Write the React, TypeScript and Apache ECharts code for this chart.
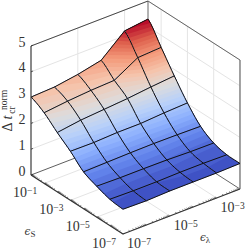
import React, { useEffect, useRef } from "react";
import * as echarts from "echarts";

// log10 of the axis values
const lambdaExp = [-7, -6, -5, -4, -3, -2];
const sExp = [0, -1, -2, -3, -4, -5, -6, -7];
const zTicks = [0, 1, 2, 3, 4, 5];
const lambdaTicks = [-7, -5, -3];
const sTicks = [-1, -3, -5, -7];
const zValues = [
  [3.02, 3.06, 3.2, 3.4, 4.19, 4.3],
  [2.74, 2.84, 2.91, 2.95, 3.48, 3.53],
  [2.3, 2.43, 2.5, 2.57, 2.67, 2.75],
  [1.9, 1.89, 1.93, 1.93, 1.99, 2.03],
  [1.43, 1.45, 1.47, 1.48, 1.47, 1.45],
  [1.2, 1.18, 1.18, 1.17, 1.14, 1.13],
  [1.02, 1.0, 1.0, 1.02, 1.02, 1.0],
  [0.96, 0.94, 0.97, 0.97, 0.97, 0.99],
];
const coolwarm = [
  [59, 76, 192], [97, 130, 234], [141, 176, 254], [184, 208, 249], [221, 220, 220],
  [245, 196, 172], [244, 154, 123], [222, 96, 77], [180, 4, 38],
];

const L_MIN = -7, L_MAX = -2, S_MIN = -7, S_MAX = 0, Z_MAX = 5;
const FONT = "Liberation Serif";
const INK = "#333333";
const Z_LO = 0.9, Z_HI = 4.3, LEVELS = 36, STEPS = 5;

// orthographic projection of the 3D box on the page plane
function project(l: number, s: number, z: number): number[] {
  const a = l - L_MIN, b = S_MAX - s;
  return [31 + 23.4 * a + 13.14 * b, 175 - 9 * a + 8.43 * b - 25.8 * z];
}

function colorAt(t: number): string {
  const p = t * (coolwarm.length - 1);
  const k = Math.min(coolwarm.length - 2, Math.floor(p));
  const f = p - k;
  const c = coolwarm[k].map((v, n) => Math.round(v + (coolwarm[k + 1][n] - v) * f));
  return `rgb(${c[0]},${c[1]},${c[2]})`;
}

// smooth drawing of a column of the mesh between its read values
function zOnColumn(i: number, j: number, v: number): number {
  const n = sExp.length - 1;
  const p0 = zValues[Math.max(0, j - 1)][i], p1 = zValues[j][i];
  const p2 = zValues[j + 1][i], p3 = zValues[Math.min(n, j + 2)][i];
  return 0.5 * (2 * p1 + (p2 - p0) * v + (2 * p0 - 5 * p1 + 4 * p2 - p3) * v * v + (3 * p1 - p0 - 3 * p2 + p3) * v * v * v);
}

// keep the part of a polygon whose height is at least zk
function clipAbove(poly: number[][], zk: number): number[][] {
  const out: number[][] = [];
  for (let n = 0; n < poly.length; n++) {
    const a = poly[n], b = poly[(n + 1) % poly.length];
    const ia = a[2] >= zk, ib = b[2] >= zk;
    if (ia) out.push(a);
    if (ia !== ib) {
      const f = (zk - a[2]) / (b[2] - a[2]);
      out.push([a[0] + (b[0] - a[0]) * f, a[1] + (b[1] - a[1]) * f, zk]);
    }
  }
  return out;
}

function App() {
  const ref = useRef<HTMLDivElement>(null);
  useEffect(() => {
    document.body.style.margin = "0";
    const chart = echarts.init(ref.current!, null, { renderer: "svg" });
    const cells: number[][] = [];
    for (let i = lambdaExp.length - 2; i >= 0; i--) {
      for (let j = 0; j < sExp.length - 1; j++) cells.push([i, j]);
    }
    const line = (api: any, a: number[], b: number[], stroke: string, lineWidth: number) => {
      const p = api.coord(project(a[0], a[1], a[2]));
      const q = api.coord(project(b[0], b[1], b[2]));
      return { type: "line", silent: true, shape: { x1: p[0], y1: p[1], x2: q[0], y2: q[1] }, style: { stroke, lineWidth } };
    };
    const GRID = "#e4e4e4";
    const renderFrameBack = (_: any, api: any) => {
      const ch: any[] = [];
      zTicks.slice(1).forEach((z) => {
        ch.push(line(api, [L_MIN, S_MAX, z], [L_MAX, S_MAX, z], GRID, 1));
        ch.push(line(api, [L_MAX, S_MAX, z], [L_MAX, S_MIN, z], GRID, 1));
      });
      lambdaTicks.forEach((l) => {
        ch.push(line(api, [l, S_MAX, 0], [l, S_MAX, Z_MAX], GRID, 1));
        ch.push(line(api, [l, S_MAX, 0], [l, S_MIN, 0], GRID, 1));
      });
      sTicks.forEach((s) => {
        ch.push(line(api, [L_MAX, s, 0], [L_MAX, s, Z_MAX], GRID, 1));
        ch.push(line(api, [L_MIN, s, 0], [L_MAX, s, 0], GRID, 1));
      });
      ch.push(line(api, [L_MIN, S_MAX, 0], [L_MAX, S_MAX, 0], "#333", 0.8));
      ch.push(line(api, [L_MAX, S_MAX, 0], [L_MAX, S_MIN, 0], "#666", 1));
      ch.push(line(api, [L_MAX, S_MAX, 0], [L_MAX, S_MAX, Z_MAX], "#666", 1));
      ch.push(line(api, [L_MIN, S_MAX, Z_MAX], [L_MAX, S_MAX, Z_MAX], "#333", 0.9));
      ch.push(line(api, [L_MAX, S_MAX, Z_MAX], [L_MAX, S_MIN, Z_MAX], "#666", 1));
      ch.push(line(api, [L_MAX, S_MIN, 0], [L_MAX, S_MIN, Z_MAX], "#777", 1.3));
      return { type: "group", children: ch };
    };
    const renderCell = (_: any, api: any) => {
      const i = api.value(0), j = api.value(1);
      // outline of the cell: down one column, back along the next
      const poly: number[][] = [];
      for (let n = 0; n <= STEPS; n++) {
        const v = n / STEPS;
        poly.push([lambdaExp[i], sExp[j] + (sExp[j + 1] - sExp[j]) * v, zOnColumn(i, j, v)]);
      }
      for (let n = STEPS; n >= 0; n--) {
        const v = n / STEPS;
        poly.push([lambdaExp[i + 1], sExp[j] + (sExp[j + 1] - sExp[j]) * v, zOnColumn(i + 1, j, v)]);
      }
      const ch: any[] = [];
      for (let k = 0; k < LEVELS; k++) {
        const zk = Z_LO + ((Z_HI - Z_LO) * k) / LEVELS;
        const part = k === 0 ? poly : clipAbove(poly, zk);
        if (part.length < 3) continue;
        const col = colorAt((k + 0.5) / LEVELS);
        ch.push({
          type: "polygon", silent: true,
          shape: { points: part.map((q) => api.coord(project(q[0], q[1], q[2]))) },
          style: { fill: col, stroke: k === 0 ? col : "none", lineWidth: 0.4 },
        });
      }
      return { type: "group", children: ch };
    };
    const renderMesh = (_: any, api: any) => {
      const ch: any[] = [];
      const pts = (list: number[][]) => list.map((v) => api.coord(project(v[0], v[1], v[2])));
      const style = { stroke: "#111", lineWidth: 1, fill: "none" };
      sExp.forEach((s, j) => {
        ch.push({ type: "polyline", silent: true, shape: { points: pts(lambdaExp.map((l, i) => [l, s, zValues[j][i]])) }, style });
      });
      lambdaExp.forEach((l, i) => {
        const list: number[][] = [];
        for (let j = 0; j < sExp.length - 1; j++) {
          for (let n = 0; n < STEPS; n++) {
            const v = n / STEPS;
            list.push([l, sExp[j] + (sExp[j + 1] - sExp[j]) * v, zOnColumn(i, j, v)]);
          }
        }
        list.push([l, S_MIN, zValues[sExp.length - 1][i]]);
        ch.push({ type: "polyline", silent: true, shape: { points: pts(list) }, style });
      });
      return { type: "group", children: ch };
    };
    const renderFrameFront = (_: any, api: any) => {
      const ch: any[] = [];
      ch.push(line(api, [L_MIN, S_MAX, 0], [L_MIN, S_MAX, Z_MAX], "#333", 1.1));
      ch.push(line(api, [L_MIN, S_MAX, 0], [L_MIN, S_MIN, 0], "#333", 1.1));
      ch.push(line(api, [L_MIN, S_MIN, 0], [L_MAX, S_MIN, 0], "#333", 1.1));
      zTicks.forEach((z) => ch.push(line(api, [L_MIN, S_MAX, z], [L_MIN + 0.09, S_MAX, z], "#333", 0.8)));
      for (let d = L_MIN; d < L_MAX; d++) {
        for (let k = 1; k < 10; k++) {
          const l = d + Math.log10(k);
          ch.push(line(api, [l, S_MIN, 0], [l, S_MIN + 0.12, 0], "#333", 0.6));
        }
      }
      for (let d = S_MIN; d < S_MAX; d++) {
        for (let k = 1; k < 10; k++) {
          const s = d + Math.log10(k);
          ch.push(line(api, [L_MIN, s, 0], [L_MIN + 0.07, s, 0], "#333", 0.6));
        }
      }
      const txt = (x: number, y: number, text: string, rich: any, size = 13) => ({
        type: "text", silent: true, x, y,
        style: { text, rich, fontFamily: FONT, fontSize: size, fill: INK, align: "center", verticalAlign: "middle" },
      });
      const tickRich = {
        a: { fontFamily: FONT, fontSize: 14, lineHeight: 13, fill: INK, verticalAlign: "bottom" },
        b: { fontFamily: FONT, fontSize: 9.5, lineHeight: 9, fill: INK, verticalAlign: "top" },
      };
      zTicks.forEach((z) => {
        const p = api.coord(project(L_MIN, S_MAX, z));
        ch.push(txt(p[0] - 9, p[1] - 4, String(z), undefined, 14));
      });
      const lab = (e: number) => `{a|10}{b|\u2212${-e}}`;
      lambdaTicks.forEach((l) => {
        const p = api.coord(project(l, S_MIN, 0));
        ch.push(txt(p[0] + 16, p[1] + 9.5, lab(l), tickRich));
      });
      sTicks.forEach((s) => {
        const p = api.coord(project(L_MIN, s, 0));
        ch.push(txt(p[0] - 19, p[1] + 9.5, lab(s), tickRich));
      });
      const epsRich = {
        e: { fontFamily: "DejaVu Serif", fontStyle: "italic", fontSize: 10.5, lineHeight: 13, fill: INK, verticalAlign: "top" },
        s: { fontFamily: FONT, fontSize: 9, lineHeight: 9, fill: INK, verticalAlign: "bottom" },
      };
      ch.push(txt(30, 232, "{e|\u03f5}{s|S}", epsRich));
      ch.push(txt(205, 238, "{e|\u03f5}{s|\u03bb}", epsRich));
      const rotTxt = (x: number, y: number, text: string, size: number, fontStyle = "normal") => ({
        type: "text", silent: true, x, y, rotation: Math.PI / 2,
        style: { text, fontFamily: FONT, fontSize: size, fontStyle, fill: INK, align: "center", verticalAlign: "middle" },
      });
      ch.push(rotTxt(7, 127, "\u0394", 14));
      ch.push(rotTxt(7, 117.5, "t", 14, "italic"));
      ch.push(rotTxt(3.5, 100, "norm", 9.5));
      ch.push(rotTxt(12, 110, "cr", 9.5));
      return { type: "group", children: ch };
    };
    const base = { type: "custom", coordinateSystem: "cartesian2d", silent: true, clip: false, animation: false };
    chart.setOption({
      animation: false,
      grid: { left: 0, right: 0, top: 0, bottom: 0 },
      xAxis: { type: "value", min: 0, max: 246, show: false },
      yAxis: { type: "value", min: 0, max: 250, inverse: true, show: false },
      series: [
        { ...base, z: 1, data: [[0, 0]], renderItem: renderFrameBack },
        { ...base, z: 2, data: cells, encode: { x: 0, y: 1 }, renderItem: renderCell },
        { ...base, z: 3, data: [[0, 0]], renderItem: renderMesh },
        { ...base, z: 4, data: [[0, 0]], renderItem: renderFrameFront },
      ],
    });
    return () => chart.dispose();
  }, []);
  return <div ref={ref} style={{ width: 246, height: 250 }} />;
}

export default App;
